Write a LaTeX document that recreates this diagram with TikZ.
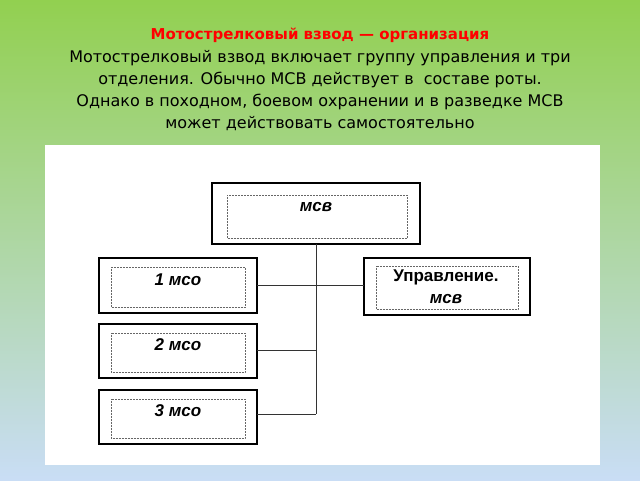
\documentclass[tikz,border=0pt]{standalone}
\usepackage{fontspec}
\setmainfont{DejaVu Sans}
\newfontfamily\boxfont{Liberation Sans}
\definecolor{bgtop}{HTML}{92D050}
\definecolor{bgbot}{HTML}{C9DDF5}
\definecolor{ttl}{HTML}{FF0000}
\begin{document}
\begin{tikzpicture}[x=1pt,y=-1pt,
  outerbox/.style={draw=black,line width=2pt,fill=white},
  innerbox/.style={draw=black!60,densely dotted,line width=0.5pt},
  lbl/.style={font=\boxfont\bfseries\itshape\fontsize{17}{20}\selectfont},
  link/.style={draw=black!80,line width=0.8pt}]
\useasboundingbox (0,0) rectangle (640,480);
\shade[top color=bgtop,bottom color=bgbot] (0,0) rectangle (640,480);
\fill[white] (45,145) rectangle (600,465);
\node[font=\bfseries\fontsize{15}{18}\selectfont,text=ttl] (title) at (320,35) {Мотострелковый взвод — организация};
\node[align=center,font=\fontsize{16}{22}\selectfont] (body) at (320,91)
  {Мотострелковый взвод включает группу управления и три\\отделения. Обычно МСВ действует в~ составе роты.\\Однако в походном, боевом охранении и в разведке МСВ\\может действовать самостоятельно};
% boxes
\draw[outerbox] (212,183) rectangle (420,244);
\draw[innerbox] (227,195) rectangle (407,238);
\node[lbl] (msv) at (316,207) {мсв};
\draw[outerbox] (99,258) rectangle (257,313);
\draw[innerbox] (111,267) rectangle (245,307);
\node[lbl] (m1) at (178,280) {1 мсо};
\draw[outerbox] (364,258) rectangle (530,315);
\draw[innerbox] (376,266) rectangle (518,309);
\node[lbl,align=center,font=\boxfont\bfseries\fontsize{17}{22}\selectfont] (upr) at (446,287) {Управление.\\{\itshape мсв}};
\draw[outerbox] (99,324) rectangle (257,378);
\draw[innerbox] (111,333) rectangle (245,372);
\node[lbl] (m2) at (178,345) {2 мсо};
\draw[outerbox] (99,390) rectangle (257,444);
\draw[innerbox] (111,399) rectangle (245,438);
\node[lbl] (m3) at (178,411) {3 мсо};
% connectors
\coordinate (top) at (316,244);
\coordinate (bot) at (316,414);
\coordinate (j1) at (316,285);
\coordinate (j2) at (316,350);
\draw[link] (top) -- (bot);
\draw[link] (257,285) -- (364,285);
\draw[link] (257,350) -- (j2);
\draw[link] (257,414) -- (bot);
\end{tikzpicture}
\end{document}
